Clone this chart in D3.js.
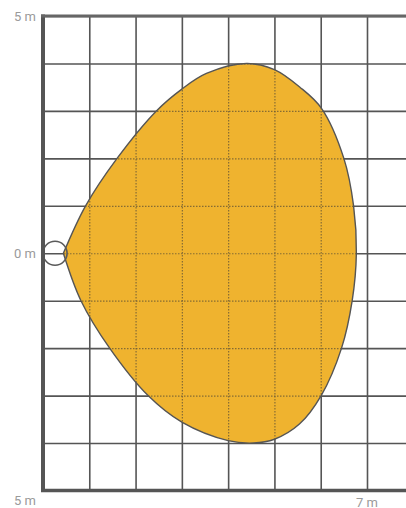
<!DOCTYPE html>
<html>
<head>
<meta charset="utf-8">
<script src="https://cdn.jsdelivr.net/npm/d3@7"></script>
<style>
html,body{margin:0;padding:0;background:#fff;}
svg{display:block;}
</style>
</head>
<body>
<svg id="chart" width="406" height="508"></svg>
<script>
// Data (metres)
const xTicks = [0,1,2,3,4,5,6,7,8];
const yTicks = [-5,-4,-3,-2,-1,0,1,2,3,4,5];
const yLabels = [{v:5,t:"5 m"},{v:0,t:"0 m"},{v:-5,t:"5 m"}];
const xLabels = [{v:7,t:"7 m"}];
// detection zone outline, clockwise from the sensor tip
const boundaryX = [0.44,0.92,1.6,2.45,3.0,3.53,4.4,5.0,5.55,6.02,6.5,6.71,6.77,6.68,6.45,6.01,5.54,5.0,4.55,4.0,3.0,2.27,1.44,0.82,0.44];
const boundaryY = [0,1.0,2.0,3.0,3.46,3.79,4.0,3.87,3.5,3.05,2.0,1.0,0,-1.0,-2.0,-3.0,-3.6,-3.92,-4.0,-3.95,-3.56,-3.0,-2.0,-1.0,0];
const sensor = {x:0.26, y:0, r:0.26};

const W = 406, H = 508;
const svg = d3.select("#chart");
const x = d3.scaleLinear().domain([0,7]).range([43,367]);
const y = d3.scaleLinear().domain([-5,5]).range([490.5,16]);

const pts = boundaryX.map((d,i)=>[d,boundaryY[i]]);
const line = d3.line().x(d=>x(d[0])).y(d=>y(d[1])).curve(d3.curveCatmullRom.alpha(0.5));
const pathD = line(pts) + "Z";

svg.append("defs").append("clipPath").attr("id","shapeClip")
  .append("path").attr("d", pathD);

function drawGrid(g){
  g.append("g").attr("transform",`translate(0,${y(-5)})`)
    .call(d3.axisBottom(x).tickValues(xTicks).tickSize(-(y(-5)-y(5))).tickFormat(""))
    .call(s=>s.select(".domain").remove());
  g.append("g").attr("transform",`translate(${x(0)},0)`)
    .call(d3.axisLeft(y).tickValues(yTicks).tickSize(-(W-x(0))).tickFormat(""))
    .call(s=>s.select(".domain").remove());
}

const grid = svg.append("g").attr("class","grid");
drawGrid(grid);
grid.selectAll(".tick line").attr("stroke","#555").attr("stroke-width",1.6);

svg.append("path").attr("d",pathD).attr("fill","#EFB32F").attr("stroke","none");

const dgrid = svg.append("g").attr("clip-path","url(#shapeClip)");
drawGrid(dgrid);
dgrid.selectAll(".tick line").attr("stroke","#6b5a35").attr("stroke-width",1.2)
  .attr("stroke-dasharray","1.5,1.5").attr("opacity",0.8);

svg.append("path").attr("d",pathD).attr("fill","none").attr("stroke","#555").attr("stroke-width",1.4);

svg.append("circle").attr("cx",x(sensor.x)).attr("cy",y(sensor.y))
  .attr("r",x(sensor.r)-x(0)).attr("fill","none").attr("stroke","#5a5a5a").attr("stroke-width",1.6);

// frame
svg.append("line").attr("x1",x(0)).attr("x2",x(0)).attr("y1",y(5)-1.5).attr("y2",y(-5)+1.5)
  .attr("stroke","#555").attr("stroke-width",4);
svg.append("line").attr("x1",x(0)-2).attr("x2",W).attr("y1",y(5)).attr("y2",y(5))
  .attr("stroke","#666").attr("stroke-width",3);
svg.append("line").attr("x1",x(0)-2).attr("x2",W).attr("y1",y(-5)).attr("y2",y(-5))
  .attr("stroke","#555").attr("stroke-width",3.5);

// labels
const font = "Roboto, 'DejaVu Sans', sans-serif";
svg.selectAll(".ylab").data(yLabels).join("text")
  .attr("x",36).attr("y",d=> d.v===-5 ? y(d.v)+14.5 : y(d.v)+4.5)
  .attr("text-anchor","end").attr("font-family",font).attr("font-size",13)
  .attr("fill","#9a9a9a").text(d=>d.t);
svg.selectAll(".xlab").data(xLabels).join("text")
  .attr("x",d=>x(d.v)).attr("y",H-1.5)
  .attr("text-anchor","middle").attr("font-family",font).attr("font-size",13)
  .attr("fill","#9a9a9a").text(d=>d.t);
</script>
</body>
</html>
